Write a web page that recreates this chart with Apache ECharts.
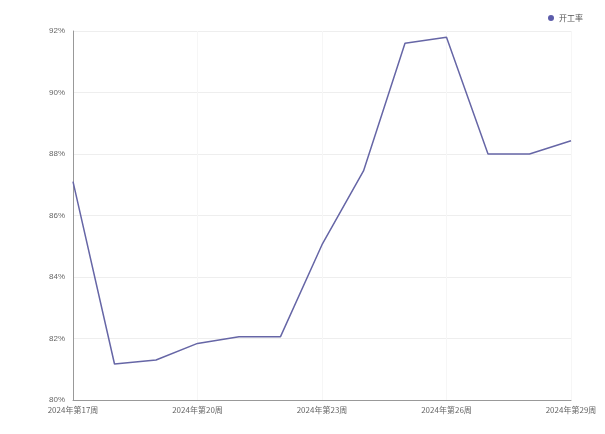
<!DOCTYPE html>
<html><head><meta charset="utf-8">
<script src="https://cdn.jsdelivr.net/npm/echarts@6/dist/echarts.min.js"></script>
<style>html,body{margin:0;padding:0;background:#fff}#c{width:605px;height:434px}</style>
</head><body><div id="c"></div>
<script>
const categories = ["2024年第17周","2024年第18周","2024年第19周","2024年第20周","2024年第21周","2024年第22周","2024年第23周","2024年第24周","2024年第25周","2024年第26周","2024年第27周","2024年第28周","2024年第29周"];
const seriesName = "开工率";
const values = [87.1, 81.17, 81.3, 81.84, 82.06, 82.06, 85.05, 87.45, 91.6, 91.8, 88.0, 88.0, 88.43];
const yTicks = {min: 80, max: 92, interval: 2};

const chart = echarts.init(document.getElementById('c'));
chart.setOption({
  animation: false,
  legend: {
    right: 17, top: 9, itemWidth: 6, itemHeight: 6, icon: 'circle',
    textStyle: {fontSize: 8, color: '#555', fontFamily: 'Noto Sans CJK SC'},
    itemGap: 4
  },
  grid: {left: 73, right: 34, top: 31, bottom: 34},
  xAxis: {
    type: 'category', data: categories, boundaryGap: false,
    axisLine: {lineStyle: {color: '#999'}},
    axisTick: {show: false},
    axisLabel: {interval: 2, fontSize: 8, color: '#666', fontFamily: 'Noto Sans CJK SC', margin: 6},
    splitLine: {show: true, lineStyle: {color: '#f6f6f6'}}
  },
  yAxis: {
    type: 'value', min: yTicks.min, max: yTicks.max, interval: yTicks.interval,
    axisLine: {show: true, lineStyle: {color: '#999'}},
    axisTick: {show: false},
    axisLabel: {formatter: '{value}%', fontSize: 8, color: '#666', margin: 8},
    splitLine: {lineStyle: {color: '#eeeeee'}}
  },
  series: [{
    name: seriesName, type: 'line', data: values, showSymbol: false, symbol: 'circle',
    lineStyle: {color: '#6666a6', width: 1.5},
    itemStyle: {color: '#5c5caa'}
  }]
});
</script></body></html>
